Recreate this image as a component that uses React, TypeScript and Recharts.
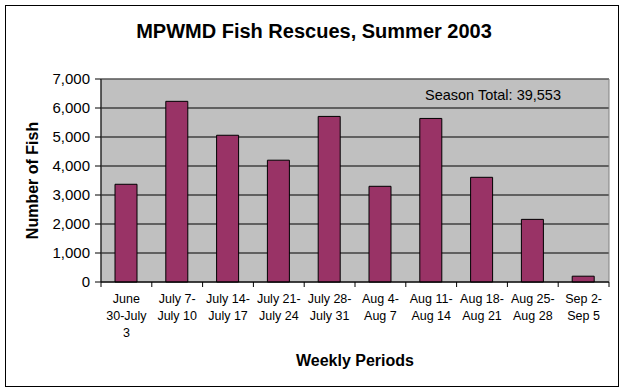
import React from "react";
import {
  Bar,
  BarChart,
  CartesianGrid,
  Label,
  ReferenceArea,
  XAxis,
  YAxis,
} from "recharts";

const periods = [
  "June\n30-July\n3",
  "July 7-\nJuly 10",
  "July 14-\nJuly 17",
  "July 21-\nJuly 24",
  "July 28-\nJuly 31",
  "Aug 4-\nAug 7",
  "Aug 11-\nAug 14",
  "Aug 18-\nAug 21",
  "Aug 25-\nAug 28",
  "Sep 2-\nSep 5",
];
const fishCounts = [3370, 6230, 5060, 4200, 5710, 3300, 5640, 3610, 2160, 200];
const yTicks = [0, 1000, 2000, 3000, 4000, 5000, 6000, 7000];

const data = periods.map((p, i) => ({ period: p, fish: fishCounts[i] }));

const FONT = "Arial, 'Liberation Sans', sans-serif";
const W = 624;
const H = 392;
const MARGIN = { top: 79, right: 15, bottom: 30, left: 0 };
const Y_AXIS_W = 101;
const PLOT_W = W - MARGIN.left - MARGIN.right - Y_AXIS_W;
const BAND = PLOT_W / periods.length;

/* ── X tick: multi-line label + Excel-style tick marks between categories ── */
function PeriodTick(props: any) {
  const { x, y, payload, index } = props;
  const lines = String(payload.value).split("\n");
  const axisY = y - 8;
  return (
    <g>
      <line x1={x - BAND / 2} x2={x - BAND / 2} y1={axisY} y2={axisY + 5} stroke="#000" />
      {index === periods.length - 1 ? (
        <line x1={x + BAND / 2} x2={x + BAND / 2} y1={axisY} y2={axisY + 5} stroke="#000" />
      ) : null}
      <text x={x} y={axisY + 21} textAnchor="middle" fontSize={12.5} fill="#000" fontFamily={FONT}>
        {lines.map((l, i) => (
          <tspan key={i} x={x} dy={i === 0 ? 0 : 17}>
            {l}
          </tspan>
        ))}
      </text>
    </g>
  );
}

export default function App() {
  return (
    <div style={{ position: "absolute", left: 0, top: 0, width: W, height: H, background: "#fff", fontFamily: FONT }}>
      <div
        style={{
          position: "absolute",
          left: 5,
          top: 5,
          width: 612,
          height: 380,
          border: "1px solid #000",
          boxSizing: "content-box",
        }}
      />
      <div
        style={{
          position: "absolute",
          left: 2,
          width: W,
          top: 18,
          textAlign: "center",
          fontSize: 20,
          fontWeight: "bold",
          lineHeight: "26px",
        }}
      >
        MPWMD Fish Rescues, Summer 2003
      </div>
      <BarChart width={W} height={H} data={data} margin={MARGIN} barSize={22} style={{ position: "absolute", left: 0, top: 0 }}>
        <CartesianGrid vertical={false} stroke="#000" fill="#c0c0c0" fillOpacity={1} />
        <ReferenceArea y1={0} y2={7000} fill="none" stroke="#808080" ifOverflow="visible" />
        <XAxis
          dataKey="period"
          interval={0}
          tick={<PeriodTick />}
          tickLine={false}
          axisLine={{ stroke: "#000" }}
          height={80}
        >
          <Label
            content={({ viewBox }: any) => (
              <text
                x={355}
                y={366}
                textAnchor="middle"
                fontSize={16}
                fontWeight="bold"
                fontFamily={FONT}
                fill="#000"
              >
                Weekly Periods
              </text>
            )}
          />
        </XAxis>
        <YAxis
          width={Y_AXIS_W}
          domain={[0, 7000]}
          ticks={yTicks}
          interval={0}
          tickFormatter={(v: number) => v.toLocaleString("en-US")}
          tick={{ fill: "#000", fontSize: 15, fontFamily: FONT, dx: -3 }}
          tickLine={{ stroke: "#000" }}
          tickSize={6}
          axisLine={{ stroke: "#000" }}
        >
          <Label
            content={({ viewBox }: any) => (
              <text
                x={0}
                y={0}
                transform={`translate(38, ${viewBox.y + viewBox.height / 2}) rotate(-90)`}
                textAnchor="middle"
                fontSize={16}
                fontWeight="bold"
                fontFamily={FONT}
                fill="#000"
              >
                Number of Fish
              </text>
            )}
          />
        </YAxis>
        <Bar dataKey="fish" fill="#993366" stroke="#000" strokeWidth={1} isAnimationActive={false} />
      </BarChart>
      <div
        style={{
          position: "absolute",
          left: 425,
          top: 86,
          fontSize: 14.5,
          lineHeight: "18px",
          color: "#000",
        }}
      >
        Season Total: 39,553
      </div>
    </div>
  );
}
